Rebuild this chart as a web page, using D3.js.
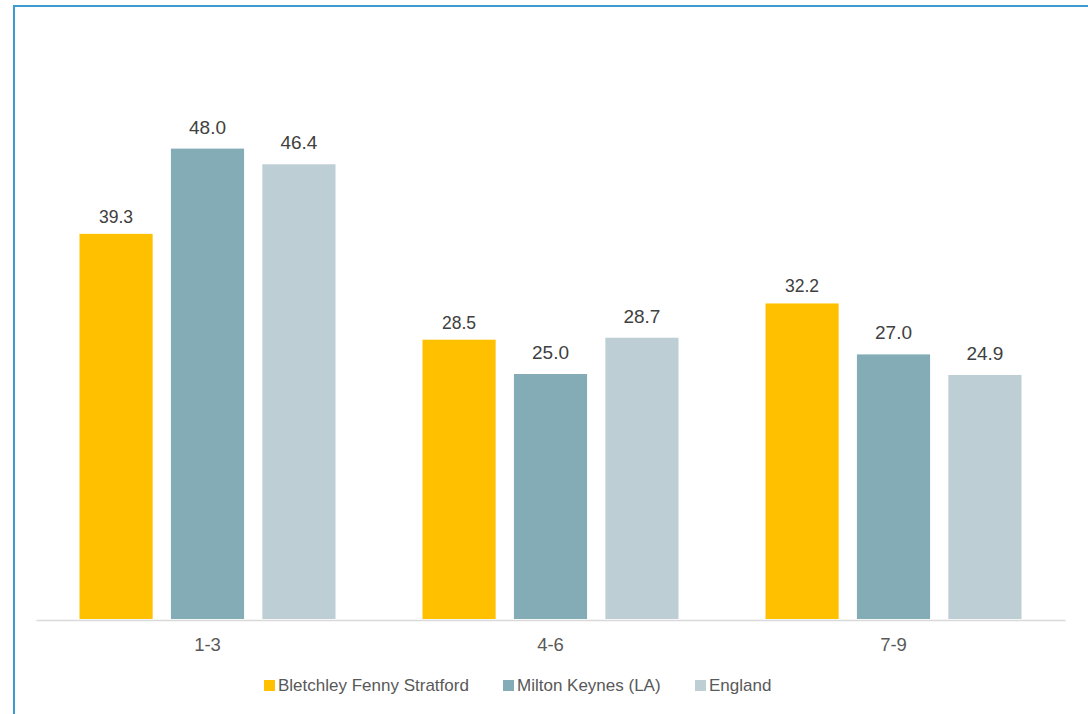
<!DOCTYPE html>
<html>
<head>
<meta charset="utf-8">
<script src="https://cdn.jsdelivr.net/npm/d3@7"></script>
<style>
  html, body { margin: 0; padding: 0; background: #fff; }
  svg { display: block; font-family: "Liberation Sans", Arial, sans-serif; }
</style>
</head>
<body>
<svg id="chart" width="1088" height="714"></svg>
<script>
// Age bands on the x axis
const categories = ["1-3", "4-6", "7-9"];
// Areas compared
const series = ["Bletchley Fenny Stratford", "Milton Keynes (LA)", "England"];
// Values per area, one per age band
const bletchley = [39.3, 28.5, 32.2];
const miltonKeynes = [48.0, 25.0, 27.0];
const england = [46.4, 28.7, 24.9];
const colors = ["#FFC000", "#84ACB6", "#BDCED5"];

const values = [bletchley, miltonKeynes, england];

const svg = d3.select("#chart");
const W = 1088, H = 714;

// Frame
svg.append("rect")
  .attr("x", 14).attr("y", 6)
  .attr("width", W + 20).attr("height", H + 20)
  .attr("fill", "none")
  .attr("stroke", "#3C9BD1")
  .attr("stroke-width", 2);

const x0 = d3.scaleBand().domain(categories).range([36, 1065]).padding(0);
const x1 = d3.scaleBand().domain(series)
  .range([43.5, x0.bandwidth() - 43.5])
  .paddingInner(0.2).paddingOuter(0);
const y = d3.scaleLinear().domain([0, 60]).range([619, 31]);

const rows = [];
categories.forEach((c, i) => {
  series.forEach((s, j) => {
    rows.push({ cat: c, ser: s, si: j, v: values[j][i] });
  });
});

const g = svg.append("g");

g.selectAll("rect.bar")
  .data(rows)
  .join("rect")
  .attr("class", "bar")
  .attr("x", d => x0(d.cat) + x1(d.ser))
  .attr("y", d => y(d.v))
  .attr("width", x1.bandwidth())
  .attr("height", d => y(0) - y(d.v))
  .attr("fill", d => colors[d.si]);

// Value labels
g.selectAll("text.val")
  .data(rows)
  .join("text")
  .attr("class", "val")
  .attr("x", d => x0(d.cat) + x1(d.ser) + x1.bandwidth() / 2)
  .attr("y", d => y(d.v) - (d.si === 0 ? 11 : 15))
  .attr("text-anchor", "middle")
  .attr("fill", "#404040")
  .attr("font-size", d => d.si === 0 ? "17.5px" : "19px")
  .text(d => d.v.toFixed(1));

// Category axis
const xAxis = svg.append("g")
  .attr("transform", "translate(0,620)")
  .call(d3.axisBottom(x0).tickSize(0).tickPadding(0));
xAxis.select(".domain").attr("stroke", "#D9D9D9").attr("stroke-width", 1.5);
xAxis.selectAll(".tick text")
  .attr("dy", null)
  .attr("y", 31)
  .attr("fill", "#595959")
  .attr("font-size", "18.5px")
  .attr("font-family", "\"Liberation Sans\", Arial, sans-serif");

// Legend
const legendItems = [
  { sx: 264, tx: 278 },
  { sx: 503, tx: 517 },
  { sx: 695, tx: 709 }
];
const lg = svg.append("g");
series.forEach((s, j) => {
  lg.append("rect")
    .attr("x", legendItems[j].sx).attr("y", 680)
    .attr("width", 11).attr("height", 11)
    .attr("fill", colors[j]);
  lg.append("text")
    .attr("x", legendItems[j].tx).attr("y", 691)
    .attr("fill", "#595959")
    .attr("font-size", "17px")
    .text(s);
});
</script>
</body>
</html>
